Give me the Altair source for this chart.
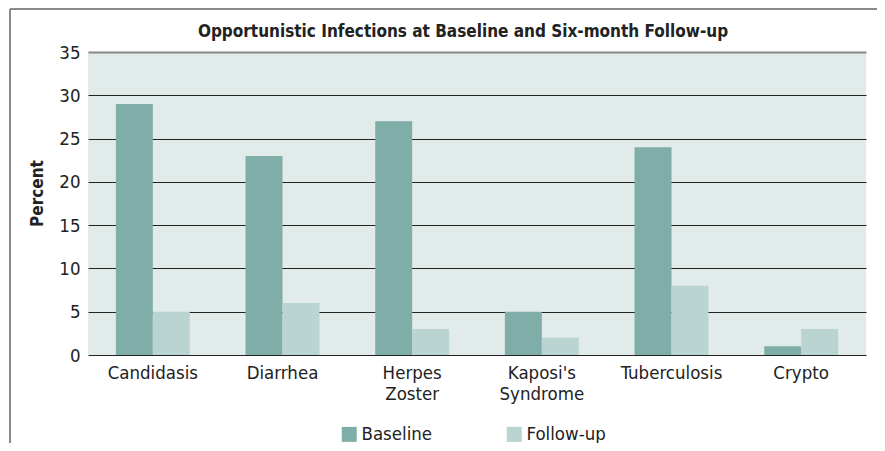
import altair as alt
import pandas as pd

categories = ["Candidasis", "Diarrhea", "Herpes Zoster", "Kaposi's Syndrome", "Tuberculosis", "Crypto"]
baseline = [29, 23, 27, 5, 24, 1]
followup = [5, 6, 3, 2, 8, 3]
series = ["Baseline", "Follow-up"]
colors = ["#7FAEA8", "#B9D4D1"]
y_ticks = [0, 5, 10, 15, 20, 25, 30, 35]
title_text = ["Opportunistic Infections at Baseline and Six-month Follow-up"]

rows = []
for c, b, f in zip(categories, baseline, followup):
    rows.append({"category": c, "series": series[0], "value": b})
    rows.append({"category": c, "series": series[1], "value": f})
df = pd.DataFrame(rows)

FONT = "DejaVu Sans Condensed, DejaVu Sans, sans-serif"
W, H = 778, 303

bars = alt.Chart(df).mark_bar().encode(
    x=alt.X(
        "category:N", sort=categories,
        scale=alt.Scale(paddingInner=0.43, paddingOuter=0.215),
        axis=alt.Axis(title=None, labelExpr="split(datum.label, ' ')", labelAngle=0,
                      ticks=False, domain=False, labelFontSize=18.5, labelColor="#222",
                      labelPadding=8, labelFont=FONT, labelLineHeight=21, grid=False),
    ),
    xOffset=alt.XOffset("series:N", sort=series),
    y=alt.Y(
        "value:Q", scale=alt.Scale(domain=[0, 35]),
        axis=alt.Axis(values=y_ticks, title="Percent", ticks=False, domain=False,
                      labelFontSize=18.5, labelColor="#222", labelFont=FONT, labelPadding=8,
                      titleFont=FONT, titleFontSize=17, titleFontWeight="bold", titleColor="#222",
                      titlePadding=12, titleY=141,
                      grid=True,
                      gridColor={"expr": "datum.value == 35 ? '#888888' : '#222222'"},
                      gridWidth={"expr": "datum.value == 35 ? 2 : 1"}),
    ),
    color=alt.Color(
        "series:N", sort=series,
        scale=alt.Scale(domain=series, range=colors),
        legend=alt.Legend(title=None, orient="none", legendX=252, legendY=373,
                          direction="horizontal", symbolType="square", symbolSize=225,
                          symbolStrokeWidth=0, symbolOpacity=1, labelFont=FONT,
                          labelFontSize=18.5, labelColor="#222", labelOffset=3,
                          columnPadding=72),
    ),
)

one = pd.DataFrame({"t": title_text})
title_mark = alt.Chart(one).mark_text(
    font=FONT, fontSize=17, fontWeight="bold", color="#222", align="center", baseline="alphabetic"
).encode(text="t:N", x=alt.value(375), y=alt.value(-15))

top_rule = alt.Chart(one).mark_rule(color="#8a8a8a", strokeWidth=2).encode(
    x=alt.value(-78), x2=alt.value(W + 11), y=alt.value(-43)
)
left_rule = alt.Chart(one).mark_rule(color="#8a8a8a", strokeWidth=2).encode(
    x=alt.value(-78), y=alt.value(-43), y2=alt.value(H + 88)
)

chart = alt.layer(bars, title_mark, top_rule, left_rule).properties(
    width=W, height=H,
    autosize=alt.AutoSizeParams(type="none"),
    padding={"left": 80, "top": 44, "right": 11, "bottom": 88},
).configure_view(fill="#E1EBE9", stroke=None)

chart.save("out.html", embed_options={"renderer": "svg", "actions": False})
